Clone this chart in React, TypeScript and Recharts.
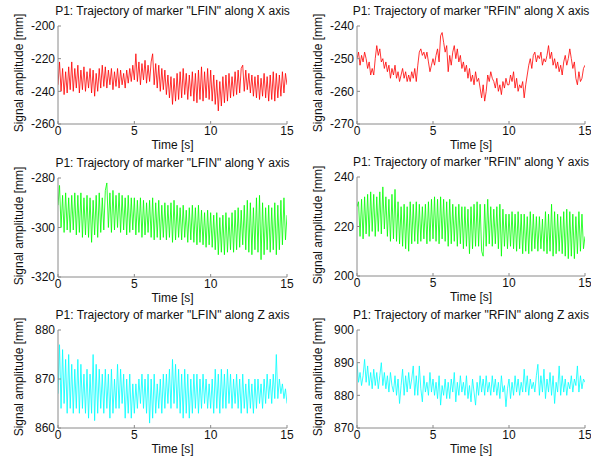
import React from "react";
import { LineChart, Line, XAxis, YAxis } from "recharts";

// samples every 0.1 s, 0 .. 15 s
const DT = 0.1;
const TIME_TICKS = [0, 5, 10, 15];

const lfinX = [
  -236, -222, -240, -226, -242, -228, -241, -225, -239, -222,
  -240, -226, -238, -224, -241, -227, -239, -225, -240, -228,
  -238, -226, -241, -227, -243, -229, -240, -226, -238, -224,
  -237, -225, -238, -227, -236, -226, -239, -228, -237, -226,
  -238, -227, -236, -229, -238, -227, -235, -226, -234, -224,
  -233, -217, -234, -222, -236, -223, -233, -221, -235, -224,
  -234, -222, -217, -236, -223, -238, -224, -240, -226, -239,
  -227, -242, -230, -244, -231, -248, -232, -246, -229, -245,
  -228, -244, -226, -242, -229, -245, -230, -243, -228, -246,
  -229, -247, -227, -245, -225, -246, -228, -244, -226, -245,
  -227, -246, -230, -248, -233, -252, -234, -249, -231, -247,
  -230, -246, -229, -244, -231, -243, -228, -242, -227, -241,
  -226, -224, -240, -227, -239, -229, -241, -230, -243, -231,
  -244, -230, -245, -232, -243, -229, -244, -231, -246, -230,
  -245, -228, -246, -229, -244, -230, -243, -228, -241, -229,
  -236,
];

const rfinX = [
  -250, -248, -252, -249, -251, -248, -250, -253, -251, -255,
  -253, -255, -250, -246, -249, -247, -251, -250, -253, -251,
  -254, -252, -256, -253, -255, -252, -256, -254, -257, -255,
  -253, -256, -254, -257, -255, -257, -254, -256, -253, -257,
  -252, -248, -247, -249, -248, -250, -248, -251, -254, -252,
  -250, -252, -249, -247, -251, -243, -242, -245, -248, -246,
  -254, -249, -252, -248, -246, -250, -247, -251, -249, -253,
  -251, -254, -252, -256, -253, -257, -255, -258, -254, -257,
  -256, -259, -262, -258, -263, -260, -255, -257, -254, -256,
  -257, -259, -256, -260, -258, -261, -257, -259, -256, -258,
  -258, -255, -257, -254, -259, -256, -260, -258, -259, -257,
  -262, -258, -255, -252, -250, -253, -249, -248, -251, -249,
  -250, -248, -252, -250, -251, -249, -246, -250, -248, -252,
  -250, -253, -251, -254, -252, -255, -251, -249, -252, -250,
  -247, -250, -253, -251, -256, -258, -254, -257, -256, -253,
  -252,
];

const lfinY = [
  -291, -283, -300, -287, -302, -286, -301, -288, -302, -287,
  -301, -286, -303, -287, -302, -286, -304, -288, -303, -287,
  -304, -288, -306, -289, -303, -287, -304, -286, -302, -288,
  -301, -285, -282, -300, -286, -302, -285, -301, -287, -300,
  -286, -302, -287, -301, -288, -303, -287, -302, -288, -301,
  -288, -303, -289, -302, -288, -304, -289, -303, -290, -302,
  -289, -304, -288, -305, -290, -304, -289, -305, -291, -304,
  -290, -305, -291, -304, -290, -306, -289, -305, -291, -304,
  -292, -305, -291, -304, -293, -306, -292, -305, -291, -306,
  -292, -307, -291, -306, -293, -307, -294, -308, -293, -307,
  -294, -308, -295, -309, -294, -311, -296, -310, -295, -311,
  -294, -310, -296, -309, -294, -310, -293, -309, -292, -308,
  -293, -307, -291, -309, -289, -310, -290, -311, -292, -309,
  -288, -310, -287, -313, -290, -311, -292, -309, -291, -310,
  -292, -309, -290, -311, -291, -309, -289, -307, -288, -305,
  -295,
];

const rfinY = [
  228, 230, 216, 231, 215, 232, 217, 233, 216, 234,
  218, 233, 216, 232, 218, 234, 217, 236, 219, 232,
  216, 231, 214, 233, 215, 235, 214, 230, 213, 228,
  212, 229, 211, 228, 210, 230, 213, 229, 214, 230,
  213, 229, 214, 228, 215, 229, 213, 230, 214, 231,
  215, 232, 214, 231, 213, 232, 215, 231, 214, 230,
  212, 231, 213, 229, 214, 228, 212, 229, 213, 228,
  211, 228, 212, 227, 209, 228, 211, 229, 212, 230,
  212, 229, 210, 208, 229, 212, 231, 213, 228, 212,
  227, 213, 228, 211, 229, 208, 227, 212, 225, 211,
  225, 212, 226, 211, 225, 210, 226, 211, 225, 209,
  225, 210, 224, 209, 226, 210, 225, 211, 224, 210,
  224, 211, 223, 210, 226, 209, 225, 210, 229, 208,
  226, 209, 225, 210, 224, 209, 226, 208, 227, 207,
  226, 208, 225, 207, 224, 209, 226, 210, 225, 211,
  216,
];

const lfinZ = [
  867, 877, 864, 876, 865, 874, 863, 875, 864, 873,
  863, 872, 864, 874, 863, 873, 864, 871, 863, 872,
  862, 871, 863, 875, 861.5, 873, 863, 872, 864, 871,
  863, 872, 864, 871, 862, 872, 863, 870, 864, 873,
  864, 872, 865, 871, 862, 870, 863, 871, 862, 869,
  863, 869, 864, 870, 865, 871, 864, 870, 863, 871,
  861, 870, 862, 871, 863, 869, 864, 870, 863, 871,
  864, 871, 865, 872, 864, 874, 865, 873, 864, 872,
  863, 871, 862, 872, 863, 871, 862, 870, 863, 871,
  864, 871, 863, 870, 864, 871, 865, 870, 864, 869,
  864, 870, 863, 872, 864, 871, 863, 872, 864, 871,
  864, 872, 865, 871, 864, 870, 865, 871, 864, 870,
  863, 871, 864, 869, 863, 870, 864, 869, 863, 870,
  864, 870, 865, 869, 864, 870, 865, 871, 866, 870,
  865, 871, 866, 875, 866, 870, 867, 869, 866, 868,
  865,
];

const rfinZ = [
  890, 884, 887, 883, 886, 891, 884, 889, 883, 887,
  882, 888, 883, 887, 882, 886, 890, 883, 887, 882,
  886, 881, 887, 883, 881, 886, 880, 885, 877.5, 883,
  888, 880, 886, 881, 887, 882, 885, 889, 880, 886,
  880, 889, 882, 878, 886, 881, 884, 880, 887, 881,
  885, 880, 884, 879, 886, 877, 883, 880, 885, 879,
  884, 879, 885, 881, 887, 878, 884, 880, 886, 881,
  884, 880, 886, 879, 883, 878, 885, 881, 877, 884,
  880, 886, 881, 885, 880, 886, 881, 884, 880, 886,
  881, 885, 880, 884, 879, 886, 881, 883, 876.5, 882,
  885, 879, 884, 880, 886, 881, 885, 880, 884, 881,
  888, 881, 886, 880, 885, 882, 884, 881, 886, 889.5,
  880, 886, 881, 888, 879, 885, 881, 887, 880, 886,
  877.5, 884, 881, 889, 880, 886, 881, 885, 880, 884,
  882, 886, 881, 885, 883, 889, 881, 886, 882, 885,
  884,
];

const FONT = "Arial, 'Liberation Sans', sans-serif";
const BOX = "#8a8a8a";

interface PanelProps {
  title: string;
  values: number[];
  color: string;
  domain: [number, number];
  ticks: number[];
  left: number;
  top: number;
  w: number;
  h: number;
}

function Panel({ title, values, color, domain, ticks, left, top, w, h }: PanelProps) {
  const data = values.map((v, i) => ({ t: +(i * DT).toFixed(2), v }));
  const tickStyle = { fontSize: 12, fill: "#111", fontFamily: FONT };
  return (
    <>
      <div
        style={{
          position: "absolute",
          left: left + w / 2,
          top: top - 15,
          transform: "translate(-50%, -50%)",
          whiteSpace: "nowrap",
          fontSize: 12,
          color: "#111",
        }}
      >
        {title}
      </div>
      <div
        style={{
          position: "absolute",
          left: left + w / 2,
          top: top + h + 21,
          transform: "translate(-50%, -50%)",
          whiteSpace: "nowrap",
          fontSize: 12,
          color: "#111",
        }}
      >
        Time [s]
      </div>
      <div
        style={{
          position: "absolute",
          left: left - 39,
          top: top + h / 2 - 2,
          transform: "translate(-50%, -50%) rotate(-90deg)",
          whiteSpace: "nowrap",
          fontSize: 12,
          color: "#111",
        }}
      >
        Signal amplitude [mm]
      </div>
      <div style={{ position: "absolute", left: left - 60, top: top - 25 }}>
        <LineChart
          width={60 + w + 8}
          height={25 + h + 35}
          data={data}
          margin={{ top: 25, right: 8, left: 0, bottom: 0 }}
        >
          <XAxis
            dataKey="t"
            type="number"
            domain={[0, 15]}
            ticks={TIME_TICKS}
            allowDataOverflow
            height={35}
            stroke={BOX}
            tickSize={-3}
            tickMargin={5}
            tick={tickStyle}
          />
          <XAxis
            xAxisId="top"
            orientation="top"
            type="number"
            domain={[0, 15]}
            ticks={TIME_TICKS}
            allowDataOverflow
            height={0}
            stroke={BOX}
            tickSize={-3}
            tick={false}
          />
          <YAxis
            type="number"
            domain={domain}
            ticks={ticks}
            allowDataOverflow
            width={60}
            stroke={BOX}
            tickSize={-3}
            tickMargin={6}
            tick={tickStyle}
          />
          <YAxis
            yAxisId="right"
            orientation="right"
            type="number"
            domain={domain}
            ticks={ticks}
            allowDataOverflow
            width={0}
            stroke={BOX}
            tickSize={-3}
            tick={false}
          />
          <Line
            dataKey="v"
            stroke={color}
            strokeWidth={0.8}
            dot={false}
            isAnimationActive={false}
          />
        </LineChart>
      </div>
    </>
  );
}

export default function App() {
  return (
    <div
      style={{
        position: "absolute",
        left: 0,
        top: 0,
        width: 591,
        height: 466,
        overflow: "hidden",
        background: "#fff",
        fontFamily: FONT,
      }}
    >
      <Panel title={'P1: Trajectory of marker "LFIN" along X axis'} values={lfinX} color="#ff0000"
        domain={[-260, -200]} ticks={[-260, -240, -220, -200]} left={58} top={26} w={229} h={98} />
      <Panel title={'P1: Trajectory of marker "RFIN" along X axis'} values={rfinX} color="#ff0000"
        domain={[-270, -240]} ticks={[-270, -260, -250, -240]} left={357} top={26} w={228} h={98} />
      <Panel title={'P1: Trajectory of marker "LFIN" along Y axis'} values={lfinY} color="#00ff00"
        domain={[-320, -280]} ticks={[-320, -300, -280]} left={58} top={178} w={229} h={99} />
      <Panel title={'P1: Trajectory of marker "RFIN" along Y axis'} values={rfinY} color="#00ff00"
        domain={[200, 240]} ticks={[200, 220, 240]} left={357} top={177} w={228} h={99} />
      <Panel title={'P1: Trajectory of marker "LFIN" along Z axis'} values={lfinZ} color="#00ffff"
        domain={[860, 880]} ticks={[860, 870, 880]} left={58} top={330} w={229} h={98} />
      <Panel title={'P1: Trajectory of marker "RFIN" along Z axis'} values={rfinZ} color="#00ffff"
        domain={[870, 900]} ticks={[870, 880, 890, 900]} left={357} top={330} w={228} h={98} />
    </div>
  );
}
